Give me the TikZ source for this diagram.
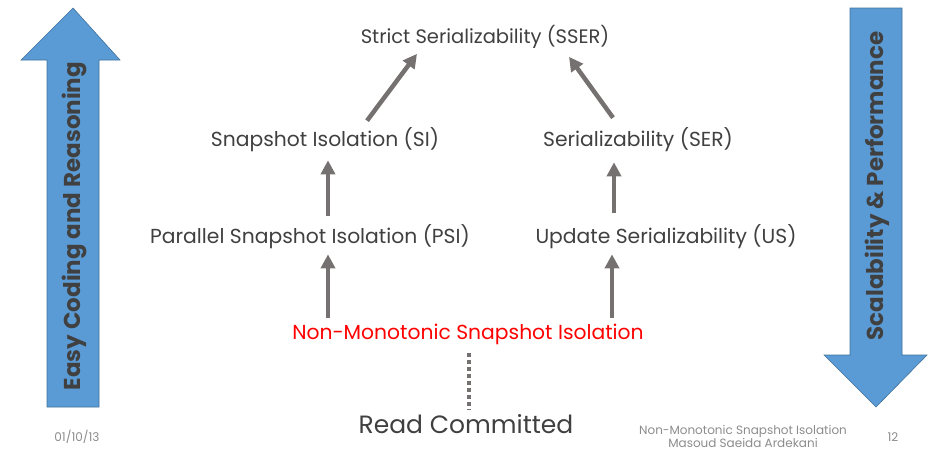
\documentclass[tikz,border=0pt]{standalone}
\usepackage{fontspec}
\setmainfont{Poppins}
\usepackage{xcolor}
\usetikzlibrary{arrows.meta}
\definecolor{txtgray}{HTML}{404040}
\definecolor{arrgray}{HTML}{767171}
\definecolor{footgray}{HTML}{8C8C8C}
\definecolor{bigblue}{HTML}{5B9BD5}
\definecolor{bigline}{HTML}{41719C}

\begin{document}
\begin{tikzpicture}[
x=1pt, y=-1pt,
level/.style={text=txtgray, font=\fontsize{20.3}{24}\selectfont, inner sep=0pt},
foot/.style={text=footgray, font=\fontsize{12}{13}\selectfont, inner sep=0pt, align=center},
impl/.style={draw=arrgray, line width=4.5pt, -{Triangle[length=14pt,width=14pt]}},
big/.style={fill=bigblue, draw=bigline, line width=0.6pt},
bigtext/.style={text=txtgray, font=\bfseries\fontsize{23}{26}\selectfont, rotate=90, inner sep=0pt}
]
% Rahmen
\useasboundingbox (0,0) rectangle (933,451);

% Grosse Pfeile
\draw[big] (47,407) -- (47,60) -- (21,60) -- (73,8) -- (120,60) -- (99,60) -- (99,407) -- cycle;
\draw[big] (850,8) -- (850,355) -- (824,355) -- (876,407) -- (927,355) -- (902,355) -- (902,8) -- cycle;
\node[bigtext] (easy) at (74,226) {Easy Coding and Reasoning};
\node[bigtext] (scal) at (877,186) {Scalability \& Performance};

% Stufen
\node[level, font=\fontsize{19.5}{24}\selectfont] (sser) at (485,37) {Strict Serializability (SSER)};
\node[level] (si) at (325,140) {Snapshot Isolation (SI)};
\node[level] (ser) at (638,140) {Serializability (SER)};
\node[level] (psi) at (310,237) {Parallel Snapshot Isolation (PSI)};
\node[level] (us) at (666,237) {Update Serializability (US)};
\node[level, text=red] (nmsi) at (468,334) {Non-Monotonic Snapshot Isolation};
\node[level, font=\fontsize{25}{28}\selectfont] (rc) at (466,424) {Read Committed};

% Pfeile
\draw[impl] ([xshift=42pt,yshift=7pt]si.north) -- ([xshift=-68pt,yshift=-5pt]sser.south);
\draw[impl] ([xshift=-25pt,yshift=10pt]ser.north) -- ([xshift=84pt,yshift=-8pt]sser.south);
\draw[impl] ([xshift=18pt,yshift=9pt]psi.north) -- ([xshift=3pt,yshift=-8pt]si.south);
\draw[impl] ([xshift=-52pt,yshift=12pt]us.north) -- ([xshift=-24pt,yshift=-10pt]ser.south);
\draw[impl] ([xshift=-140pt,yshift=5pt]nmsi.north) -- ([xshift=18pt,yshift=-5pt]psi.south);
\draw[impl] ([xshift=144pt,yshift=5pt]nmsi.north) -- ([xshift=-54pt,yshift=-5pt]us.south);
\draw[arrgray, line width=4.5pt, dash pattern=on 4pt off 3pt] ([xshift=1pt,yshift=-8pt]nmsi.south) -- ([xshift=3pt,yshift=4pt]rc.north);

% Fusszeile
\node[foot] (date) at (77,437) {01/10/13};
\node[foot] (title) at (743,436) {Non-Monotonic Snapshot Isolation\\Masoud Saeida Ardekani};
\node[foot] (page) at (893,437) {12};
\end{tikzpicture}
\end{document}
